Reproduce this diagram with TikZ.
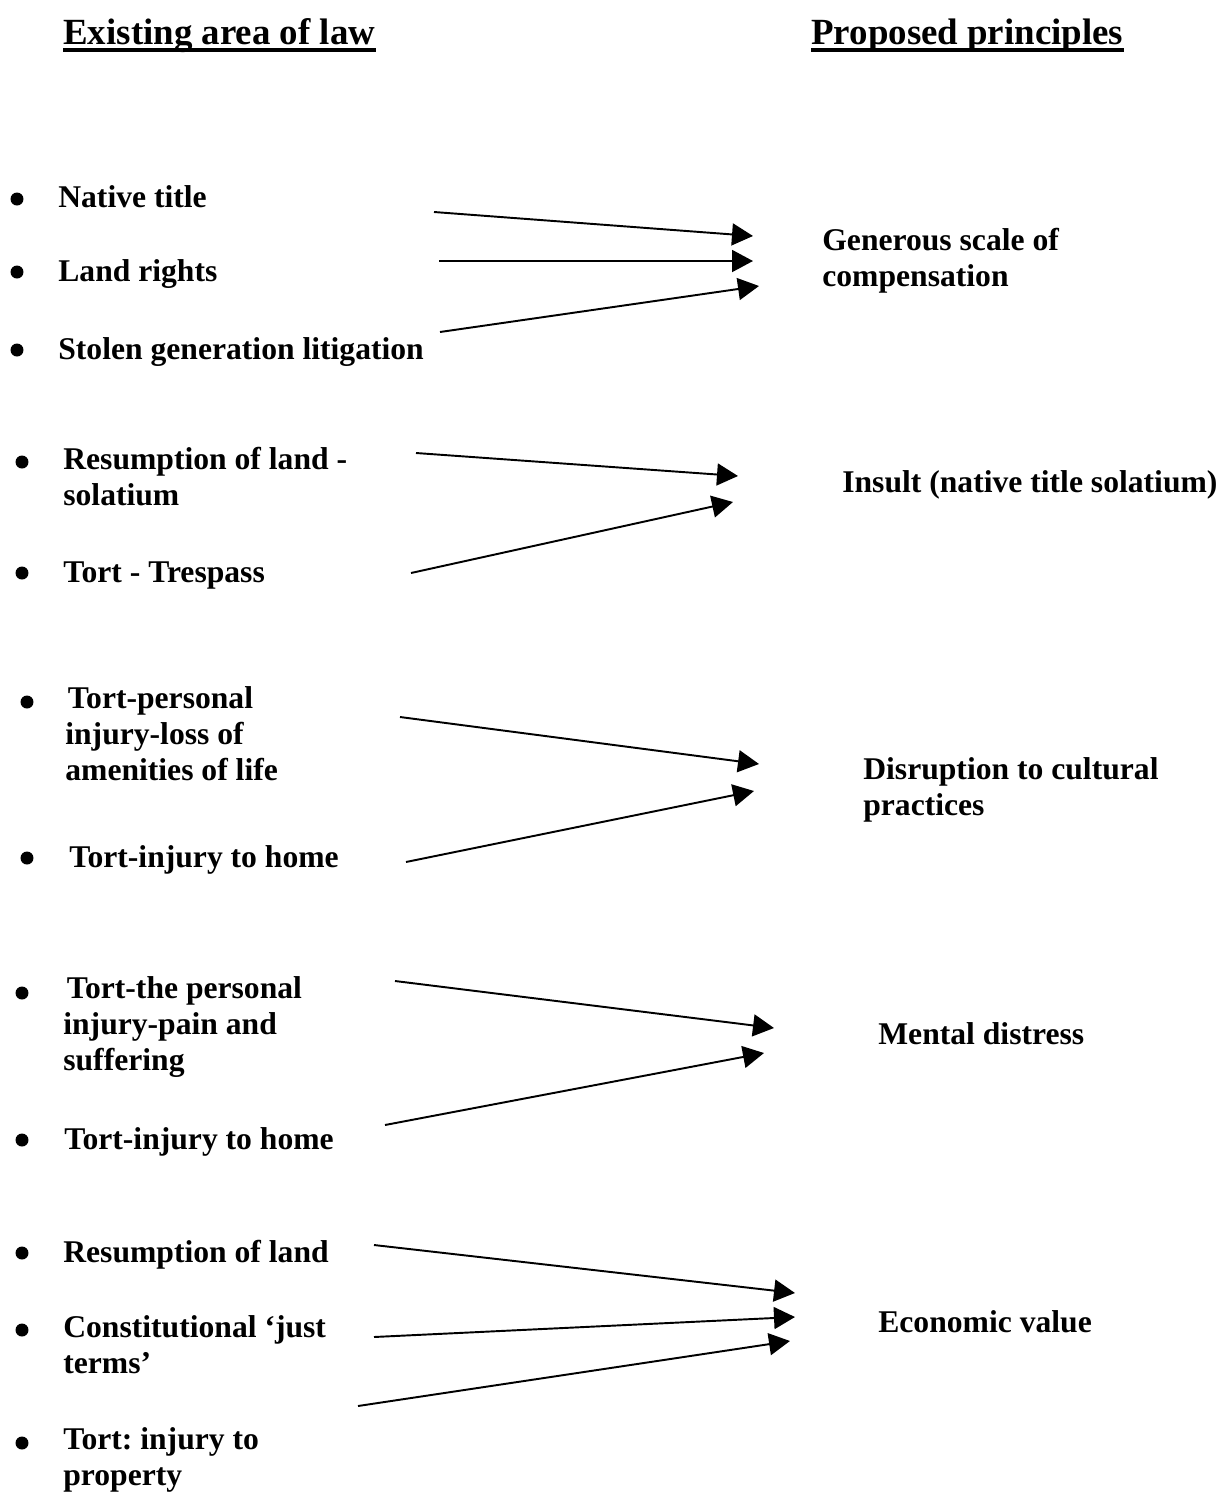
\documentclass[tikz,border=0pt]{standalone}
\usepackage{fontspec}
\setmainfont{Liberation Serif}
\usetikzlibrary{arrows.meta}
\frenchspacing

\tikzset{
  item/.style={anchor=west, align=left, inner sep=0pt,
    font=\bfseries\fontsize{18}{20.7}\selectfont,
    execute at begin node=\strut, execute at end node=\strut},
  head/.style={anchor=base west, inner sep=0pt, font=\bfseries\fontsize{21}{24}\selectfont},
  link/.style={->, line width=1.1pt},
}

\begin{document}
\begin{tikzpicture}[x=0.02cm,y=-0.02cm,>={Triangle[length=0.42cm,width=0.44cm]}]
  \useasboundingbox (0,0) rectangle (1224,1495);

  % headings
  \node[head] (left) at (63,44) {Existing area of law};
  \node[head] (right) at (811,44) {Proposed principles};
  \draw[line width=2pt] ([yshift=-0.12cm]left.base west) -- ([yshift=-0.12cm]left.base east);
  \draw[line width=2pt] ([yshift=-0.12cm]right.base west) -- ([yshift=-0.12cm]right.base east);

  % existing areas
  \node[item] (title) at (58,200) {Native title};
  \node[item] (rights) at (58,274) {Land rights};
  \node[item] (stolen) at (58,352) {Stolen generation litigation};
  \node[item] (solatium) at (63,482) {Resumption of land -\\solatium};
  \node[item] (trespass) at (63,575) {Tort - Trespass};
  \node[item] (amenity) at (65,739) {\hspace*{1.5pt}Tort-personal\\injury-loss of\\amenities of life};
  \node[item] (homeA) at (69,860) {Tort-injury to home};
  \node[item] (pain) at (63,1029) {\hspace*{2pt}Tort-the personal\\injury-pain and\\suffering};
  \node[item] (homeB) at (64,1142) {Tort-injury to home};
  \node[item] (resume) at (63,1255) {Resumption of land};
  \node[item] (terms) at (63,1350) {Constitutional ‘just\\terms’};
  \node[item] (property) at (63,1462) {Tort: injury to\\property};

  \foreach \x/\y in {17/199,17/272,17/350,22/462,22/573,27/702,27/858,22/993,22/1140,22/1253,22/1330,22/1443}
    \fill (\x,\y) circle (0.13cm);

  % proposed principles
  \node[item] (generous) at (822,263) {Generous scale of\\compensation};
  \node[item] (insult) at (842,485) {Insult (native title solatium)};
  \node[item] (culture) at (863,792) {Disruption to cultural\\practices};
  \node[item] (mental) at (878,1037) {Mental distress};
  \node[item] (economic) at (878,1325) {Economic value};

  % arrow ends
  \coordinate (a1) at (434,212);  \coordinate (A1) at (753,236);
  \coordinate (a2) at (439,261);  \coordinate (A2) at (753,261);
  \coordinate (a3) at (440,332);  \coordinate (A3) at (759,286);
  \coordinate (b1) at (416,453);  \coordinate (B1) at (738,476);
  \coordinate (b2) at (411,573);  \coordinate (B2) at (733,502);
  \coordinate (c1) at (400,717);  \coordinate (C1) at (759,764);
  \coordinate (c2) at (406,862);  \coordinate (C2) at (754,791);
  \coordinate (d1) at (395,981);  \coordinate (D1) at (774,1028);
  \coordinate (d2) at (385,1125); \coordinate (D2) at (764,1053);
  \coordinate (e1) at (374,1245); \coordinate (E1) at (795,1293);
  \coordinate (e2) at (374,1337); \coordinate (E2) at (795,1317);
  \coordinate (e3) at (358,1406); \coordinate (E3) at (790,1341);

  \draw[link] (a1) -- (A1);
  \draw[link] (a2) -- (A2);
  \draw[link] (a3) -- (A3);
  \draw[link] (b1) -- (B1);
  \draw[link] (b2) -- (B2);
  \draw[link] (c1) -- (C1);
  \draw[link] (c2) -- (C2);
  \draw[link] (d1) -- (D1);
  \draw[link] (d2) -- (D2);
  \draw[link] (e1) -- (E1);
  \draw[link] (e2) -- (E2);
  \draw[link] (e3) -- (E3);
\end{tikzpicture}
\end{document}
